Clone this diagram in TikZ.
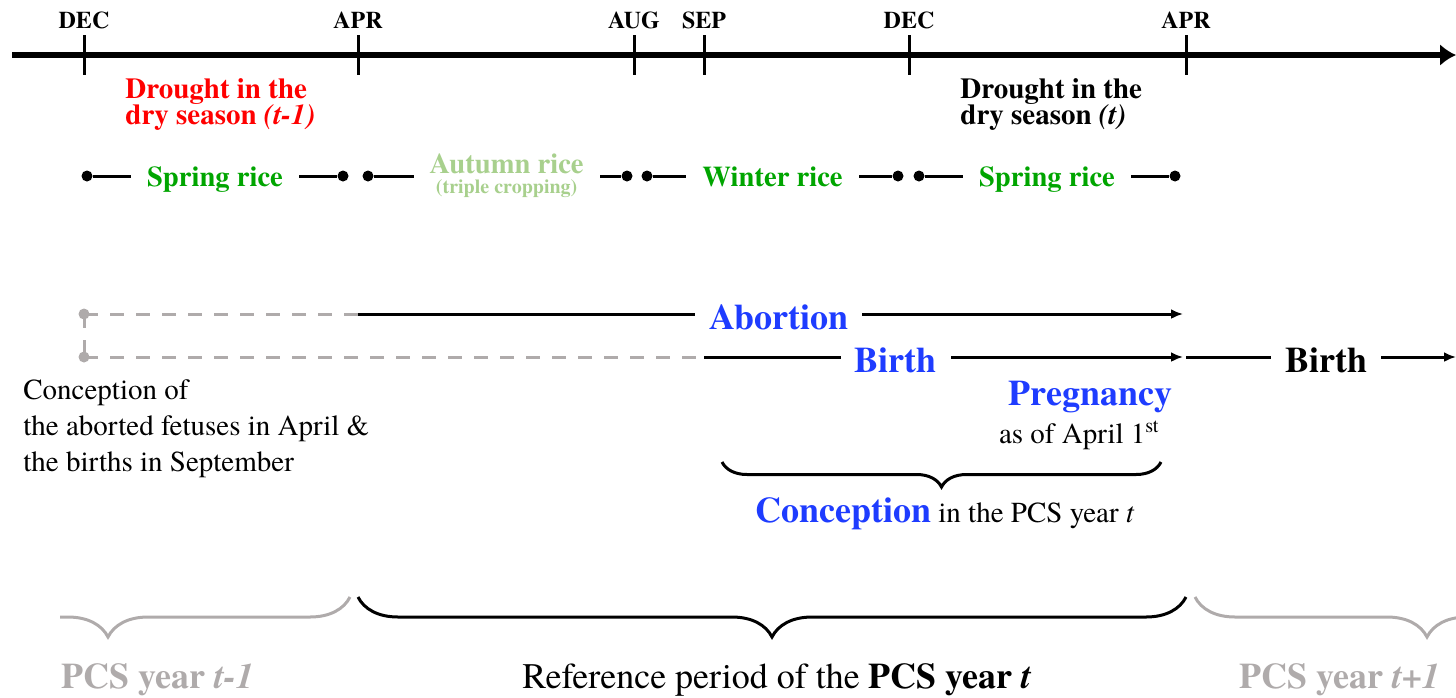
\documentclass[tikz,border=0pt]{standalone}
\usepackage{fontspec}
\setmainfont{texgyretermes}[Extension=.otf,UprightFont=*-regular,BoldFont=*-bold,
    ItalicFont=*-italic,BoldItalicFont=*-bolditalic]
\usepackage{tikz}
\usetikzlibrary{arrows.meta,positioning,decorations.pathreplacing}

\definecolor{droughtRed}{RGB}{255,0,0}
\definecolor{riceGreen}{RGB}{0,165,0}
\definecolor{autumnGreen}{RGB}{168,208,141}
\definecolor{eventBlue}{RGB}{30,60,255}
\definecolor{pcsGrey}{RGB}{175,171,171}

\begin{document}
\begin{tikzpicture}[
            x=0.5pt, y=-0.5pt,
            >={Latex[length=6pt,width=5pt]},
            month/.style={anchor=base,font=\fontsize{12}{14}\selectfont\bfseries},
            tick/.style={line width=1.5pt},
            dot/.style={circle,fill,inner sep=0pt,minimum size=5.5pt},
            crop line/.style={line width=1.5pt},
            crop box/.style={fill=white,inner xsep=8pt,inner ysep=1pt},
            crop/.style={crop box,text=riceGreen,text height=13pt,text depth=3pt,
                         font=\fontsize{14.3}{16}\selectfont\bfseries},
            drought/.style={anchor=north west,inner sep=0pt,align=left,
                            font=\fontsize{14.5}{13.2}\selectfont\bfseries\setlength{\lineskiplimit}{-5pt}},
            timeline/.style={line width=1.5pt},
            grey line/.style={line width=1.5pt,pcsGrey,dash pattern=on 7pt off 6pt},
            event/.style={fill=white,inner xsep=7pt,inner ysep=1pt,text=eventBlue,
                          text height=17pt,text depth=2pt,
                          font=\fontsize{18}{20}\selectfont\bfseries},
            note/.style={inner sep=0pt,align=left,font=\fontsize{14.5}{18}\selectfont},
            pcs brace/.style={decorate,decoration={brace,mirror,amplitude=20pt},line width=1.5pt},
            period/.style={anchor=base,font=\fontsize{18}{20}\selectfont}
        ]
        \useasboundingbox (0,0) rectangle (1456,697);

        % Draw time axis %
        \coordinate (axis0) at (12,55);
        \coordinate (axis1) at (1456,55);
        \draw[line width=3.3pt,-{Latex[length=8pt,width=11pt]}] (axis0) -- (axis1);
        \foreach \x/\m [count=\i] in {84/DEC,358/APR,634/AUG,704/SEP,909/DEC,1186/APR} {
            \draw[tick] (\x,35) -- (\x,75);
            \node[month] (m\i) at (\x,28) {\m};
        }

        % Draw droughts %
        \node[drought,text=droughtRed] (drought0) at (125,78) {Drought in the\\dry season \textit{(t-1)}};
        \node[drought] (drought1) at (960,78) {Drought in the\\dry season \textit{(t)}};

        % Draw rice seasons %
        \foreach \a/\b/\t [count=\i] in {87/343/Spring rice,647/898/Winter rice,919/1175/Spring rice} {
            \node[dot] (r\i a) at (\a,176) {};
            \node[dot] (r\i b) at (\b,176) {};
            \draw[crop line] (r\i a) -- node[crop] (crop\i) {\t} (r\i b);
        }
        \node[dot] (au a) at (368,176) {};
        \node[dot] (au b) at (627,176) {};
        \draw[crop line] (au a) -- node[crop box,pos=0.537,text=autumnGreen,align=center,
                font=\fontsize{14.3}{10}\selectfont\bfseries\setlength{\lineskiplimit}{-5pt}] (autumn)
            {Autumn rice\\{\fontsize{10}{10}\selectfont (triple cropping)}} (au b);

        % Draw abortion and birth arrows %
        \coordinate (ab0) at (84,314);
        \coordinate (ab1) at (358,314);
        \coordinate (ab2) at (1183,314);
        \coordinate (bi0) at (84,357);
        \coordinate (bi1) at (704,357);
        \coordinate (bi2) at (1183,357);
        \coordinate (bi3) at (1186,357);
        \coordinate (bi4) at (1456,357);
        \draw[grey line] (ab0) -- (ab1);
        \draw[grey line] (bi0) -- (bi1);
        \draw[grey line] (ab0) -- (bi0);
        \node[dot,pcsGrey] (g0) at (ab0) {};
        \node[dot,pcsGrey] (g1) at (bi0) {};
        \draw[timeline,->] (ab1) -- node[event,pos=0.51] (abortion) {Abortion} (ab2);
        \draw[timeline,->] (bi1) -- node[event,pos=0.4] (birth0) {Birth} (bi2);
        \draw[timeline,->] (bi3) -- node[event,pos=0.52,text=black] (birth1) {Birth} (bi4);

        % Label conception %
        \node[note,anchor=north west] (concnote) at (23,379)
            {Conception of\\the aborted fetuses in April \&\\the births in September};

        % Draw pregnancy %
        \node[event,fill=none,inner sep=0pt,anchor=base east] (preg) at (1173,405) {Pregnancy};
        \node[note,anchor=base east] (asof) at (1160,443) {as of April 1\textsuperscript{st}};
        \draw[decorate,decoration={brace,mirror,amplitude=12.5pt},line width=1.5pt]
            (722,462) -- (1161,462);
        \node[note,anchor=base] (conc) at (945,522)
            {{\color{eventBlue}\fontsize{18}{20}\selectfont\bfseries Conception} in the PCS year \textit{t}};

        % Draw PCS years %
        \begin{scope}
            \clip (60,570) rectangle (1456,660);
            \draw[pcs brace,pcsGrey] (-134,597) -- (350,597);
            \draw[pcs brace,pcsGrey] (1195,597) -- (1659,597);
        \end{scope}
        \draw[pcs brace] (358,597) -- (1186,597);
        \node[period,text=pcsGrey,font=\fontsize{18}{20}\selectfont\bfseries] (pcs0) at (158,688) {PCS year \textit{t-1}};
        \node[period] (pcs1) at (777,688) {Reference period of the \textbf{PCS year \textit{t}}};
        \node[period,text=pcsGrey,font=\fontsize{18}{20}\selectfont\bfseries] (pcs2) at (1340,688) {PCS year \textit{t+1}};
        \end{tikzpicture}
\end{document}
